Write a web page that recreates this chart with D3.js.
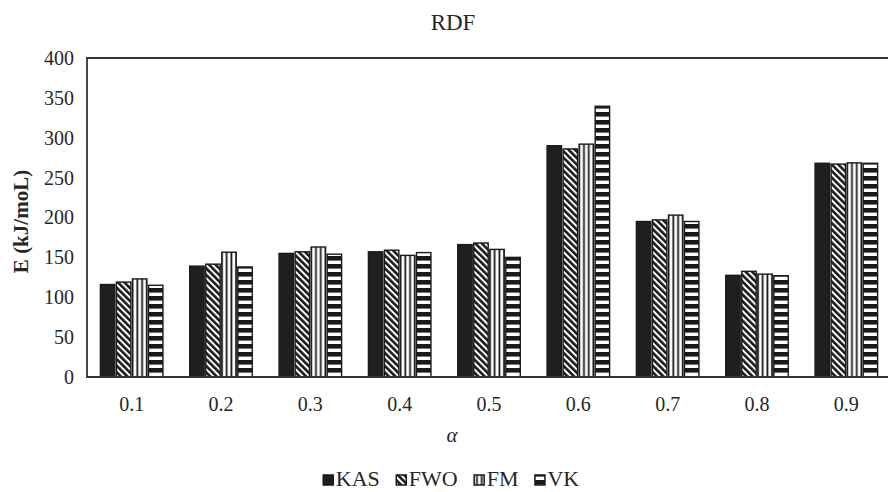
<!DOCTYPE html>
<html>
<head>
<meta charset="utf-8">
<script src="https://cdn.jsdelivr.net/npm/d3@7"></script>
<style>
  body { margin: 0; background: white; }
  text { font-family: "Liberation Serif", "Times New Roman", serif; fill: #262626; }
</style>
</head>
<body>
<div id="chart"></div>
<script>
// Chart data
var categories = ["0.1", "0.2", "0.3", "0.4", "0.5", "0.6", "0.7", "0.8", "0.9"];
var seriesNames = ["KAS", "FWO", "FM", "VK"];
var kasValues = [116, 139, 155, 157, 166, 290, 195, 127.5, 268];
var fwoValues = [119, 141.5, 157, 159, 168, 286, 197, 132.5, 267];
var fmValues = [123, 156.5, 163, 152.5, 160, 292, 203, 129, 268.5];
var vkValues = [115, 138, 154, 156, 150, 339.5, 195, 127, 268];
var yTicks = [0, 50, 100, 150, 200, 250, 300, 350, 400];

var svgWidth = 888;
var svgHeight = 492;

// Plot area runs off the right edge, like the reference
var plot = { left: 87, top: 58, right: 891, bottom: 377 };

var allValues = [kasValues, fwoValues, fmValues, vkValues];
var tableData = categories.map((c, i) => ({
  category: c,
  values: seriesNames.map((s, j) => ({ series: s, value: allValues[j][i] }))
}));

var svg = d3.select("#chart")
            .append("svg")
            .attr("width", svgWidth)
            .attr("height", svgHeight);

// Fill patterns for the hatched series
var defs = svg.append("defs");

var pFwo = defs.append("pattern")
               .attr("id", "pat-FWO")
               .attr("patternUnits", "userSpaceOnUse")
               .attr("width", 4.6)
               .attr("height", 10)
               .attr("patternTransform", "rotate(-45)");
pFwo.append("rect").attr("width", 4.6).attr("height", 10).attr("fill", "white");
pFwo.append("rect").attr("width", 2.6).attr("height", 10).attr("fill", "#1a1a1a");

var pFm = defs.append("pattern")
              .attr("id", "pat-FM")
              .attr("patternUnits", "userSpaceOnUse")
              .attr("width", 4.8)
              .attr("height", 10);
pFm.append("rect").attr("width", 4.8).attr("height", 10).attr("fill", "white");
pFm.append("rect").attr("x", 2.4).attr("width", 1.8).attr("height", 10).attr("fill", "#1a1a1a");

var pVk = defs.append("pattern")
              .attr("id", "pat-VK")
              .attr("patternUnits", "userSpaceOnUse")
              .attr("width", 10)
              .attr("height", 8);
pVk.append("rect").attr("width", 10).attr("height", 8).attr("fill", "white");
pVk.append("rect").attr("width", 10).attr("height", 4.6).attr("fill", "#1a1a1a");

var fills = { "KAS": "#1f1f1f", "FWO": "url(#pat-FWO)", "FM": "url(#pat-FM)", "VK": "url(#pat-VK)" };

// Scales
var x0 = d3.scaleBand()
           .domain(categories)
           .range([plot.left, plot.right])
           .paddingInner(0.3)
           .paddingOuter(0.15);

var x1 = d3.scaleBand()
           .domain(seriesNames)
           .range([0, x0.bandwidth()])
           .paddingInner(0.1);

var y = d3.scaleLinear()
          .domain([0, 400])
          .range([plot.bottom, plot.top]);

// Title
svg.append("text")
   .attr("x", 453)
   .attr("y", 30)
   .attr("text-anchor", "middle")
   .style("font-size", "23px")
   .text("RDF");

// Bars
var groups = svg.append("g")
                .selectAll("g")
                .data(tableData)
                .enter()
                .append("g")
                .attr("transform", d => `translate(${x0(d.category)}, 0)`);

groups.selectAll("rect")
      .data(d => d.values)
      .enter()
      .append("rect")
      .attr("x", d => x1(d.series))
      .attr("y", d => y(d.value))
      .attr("width", x1.bandwidth())
      .attr("height", d => y(0) - y(d.value))
      .attr("fill", d => fills[d.series])
      .attr("stroke", "#1a1a1a")
      .attr("stroke-width", 1.4);

// Frame (left, top, bottom); the right side is cut off
svg.append("path")
   .attr("d", `M${plot.right + 10},${plot.top}H${plot.left}V${plot.bottom}H${plot.right + 10}`)
   .attr("fill", "none")
   .attr("stroke", "#333")
   .attr("stroke-width", 1.8);

// Y axis
var yAxisGroup = svg.append("g")
                    .attr("transform", `translate(${plot.left}, 0)`)
                    .call(d3.axisLeft(y).tickValues(yTicks).tickSize(0).tickPadding(13));
yAxisGroup.select(".domain").remove();
yAxisGroup.selectAll("text")
          .style("font-size", "20px")
          .style("font-family", "Liberation Serif, serif")
          .attr("fill", "#262626");

// X axis
var xAxisGroup = svg.append("g")
                    .attr("transform", `translate(0, ${plot.bottom})`)
                    .call(d3.axisBottom(x0).tickSize(0).tickPadding(20));
xAxisGroup.select(".domain").remove();
xAxisGroup.selectAll("text")
          .style("font-size", "20px")
          .style("font-family", "Liberation Serif, serif")
          .attr("fill", "#262626");

// Axis titles
svg.append("text")
   .attr("transform", "rotate(-90)")
   .attr("x", -(plot.top + plot.bottom) / 2 - 4)
   .attr("y", 28)
   .attr("text-anchor", "middle")
   .style("font-size", "21px")
   .style("font-weight", "bold")
   .text("E (kJ/moL)");

svg.append("text")
   .attr("x", 452)
   .attr("y", 442)
   .attr("text-anchor", "middle")
   .style("font-size", "21px")
   .style("font-style", "italic")
   .text("α");

// Legend, centred under the chart
var legend = svg.append("g");
var legendX = 0;
seriesNames.forEach(function(s) {
  var item = legend.append("g").attr("transform", `translate(${legendX}, 0)`);
  item.append("rect")
      .attr("x", 0.5)
      .attr("y", 475)
      .attr("width", 10)
      .attr("height", 10)
      .attr("fill", fills[s])
      .attr("stroke", "#1a1a1a")
      .attr("stroke-width", 1.5);
  var label = item.append("text")
                  .attr("x", 13)
                  .attr("y", 486)
                  .style("font-size", "22px")
                  .text(s);
  legendX += 13 + label.node().getComputedTextLength() + 16;
});
legend.attr("transform", `translate(${451 - (legendX - 16) / 2}, 0)`);
</script>
</body>
</html>
